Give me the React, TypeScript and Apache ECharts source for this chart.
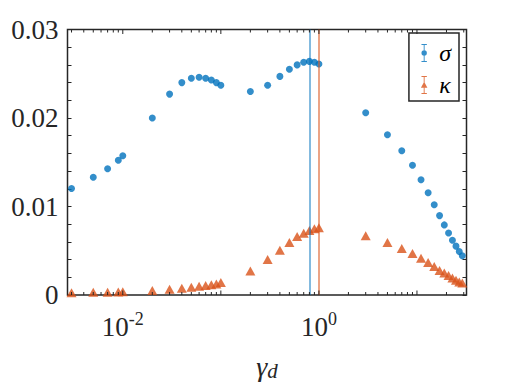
import React, { useEffect, useRef } from 'react';
import * as echarts from 'echarts';

// gamma_d sample points
const gammaD = [
  0.003, 0.005, 0.007, 0.009, 0.01,
  0.02, 0.03, 0.04, 0.05, 0.06, 0.07, 0.08, 0.09, 0.1,
  0.2, 0.3, 0.4, 0.5, 0.6, 0.7, 0.8, 0.9, 1,
  3, 5, 7, 9, 11, 13, 15, 17, 19, 21, 23, 25, 27, 29,
];

const sigmaValues = [
  0.01203, 0.0133, 0.01426, 0.01522, 0.01574,
  0.0200, 0.0227, 0.0240, 0.0245, 0.0246, 0.0245, 0.0243, 0.0240, 0.0237,
  0.0230, 0.0237, 0.0247, 0.0255, 0.0260, 0.0263, 0.0264, 0.0263, 0.0261,
  0.0206, 0.0181, 0.0163, 0.01467, 0.01303, 0.01156, 0.01019, 0.00897, 0.00792, 0.0070, 0.00619, 0.00552, 0.00492, 0.00444,
];

const kappaValues = [
  0.00025, 0.0003, 0.00032, 0.00035, 0.00036,
  0.0005, 0.00064, 0.00076, 0.00087, 0.00098, 0.00106, 0.00117, 0.00124, 0.00142,
  0.00272, 0.00402, 0.00506, 0.00594, 0.00661, 0.00698, 0.00728, 0.0075, 0.00761,
  0.00669, 0.00594, 0.00526, 0.0047, 0.00415, 0.00367, 0.00322, 0.00278, 0.00248, 0.00219, 0.00192, 0.00167, 0.00148, 0.00137,
];

const peakLines = [
  { name: 'σ', x: 0.8 },
  { name: 'κ', x: 1 },
];

const yTickLabels = ['0', '0.01', '0.02', '0.03'];
const xLabelDecades = [-2, 0];
const xDecades = [-3, -2, -1, 0, 1];

const X_MIN = 0.00273;
const X_MAX = 32;
const Y_MIN = 0;
const Y_MAX = 0.03;

const BLUE = '#0072BD';
const ORANGE = '#D95319';
const AXIS = '#262626';
const FONT = 'Liberation Serif';

const iconSigma =
  'path://M2 0H8V1H2Z M4.5 0H5.5V20H4.5Z M2 19H8V20H2Z M5 7A3 3 0 1 1 5 13A3 3 0 1 1 5 7Z';
const iconKappa =
  'path://M2 0H8V1H2Z M4.5 0H5.5V20H4.5Z M2 19H8V20H2Z M5 6.5L8.6 13L1.4 13Z';

export default function App() {
  const ref = useRef<HTMLDivElement>(null);

  useEffect(() => {
    if (!ref.current) return;
    const chart = echarts.init(ref.current, undefined, { renderer: 'svg' });

    const tickData: number[][] = [];
    xDecades.forEach((d) => {
      for (let m = 1; m <= 9; m++) {
        const v = m * Math.pow(10, d);
        if (v >= X_MIN && v <= X_MAX) tickData.push([v, m === 1 ? 1 : 0]);
      }
    });

    const yAxisCommon = {
      type: 'value',
      min: Y_MIN,
      max: Y_MAX,
      interval: 0.002,
      splitLine: { show: false },
      axisLine: { show: false },
      axisTick: { show: true, inside: true, length: 4, lineStyle: { color: AXIS, width: 1 } },
    };

    const option: any = {
      animation: false,
      backgroundColor: '#fff',
      textStyle: { fontFamily: FONT },
      grid: {
        left: 67.5,
        top: 29.5,
        width: 399,
        height: 270,
        show: true,
        borderColor: AXIS,
        borderWidth: 1.5,
        backgroundColor: 'transparent',
      },
      legend: {
        orient: 'vertical',
        right: 56,
        top: 33,
        padding: [8, 8, 4, 12],
        itemWidth: 10,
        itemHeight: 18,
        itemGap: 8,
        borderColor: AXIS,
        borderWidth: 1.5,
        backgroundColor: '#fff',
        textStyle: {
          fontFamily: FONT,
          fontStyle: 'italic',
          fontSize: 24,
          color: '#000',
          lineHeight: 20,
          padding: [0, 0, 0, 5],
        },
        data: [
          { name: 'σ', icon: iconSigma },
          { name: 'κ', icon: iconKappa },
        ],
      },
      xAxis: {
        type: 'log',
        logBase: 10,
        min: X_MIN,
        max: X_MAX,
        splitLine: { show: false },
        axisLine: { show: false },
        axisTick: { show: false },
        name: '{g|γ}{d|d}',
        nameLocation: 'middle',
        nameGap: 56,
        nameTextStyle: {
          rich: {
            g: { fontFamily: FONT, fontStyle: 'italic', fontSize: 28, color: AXIS, lineHeight: 30, verticalAlign: 'middle' },
            d: { fontFamily: FONT, fontStyle: 'italic', fontSize: 21, color: AXIS, lineHeight: 20, verticalAlign: 'bottom', padding: [8, 0, 0, 0] },
          },
        },
        axisLabel: {
          margin: 15,
          formatter: (v: number) => {
            const l = Math.log10(v);
            const e = Math.round(l);
            if (Math.abs(l - e) < 1e-6 && xLabelDecades.includes(e)) return `{b|10}{s|${e}}`;
            return '';
          },
          rich: {
            b: { fontFamily: FONT, fontSize: 27, color: AXIS, lineHeight: 30, verticalAlign: 'bottom' },
            s: { fontFamily: FONT, fontSize: 18, color: AXIS, lineHeight: 17, verticalAlign: 'top' },
          },
        },
      },
      yAxis: [
        {
          ...yAxisCommon,
          position: 'left',
          axisLabel: {
            show: true,
            margin: 9,
            fontFamily: FONT,
            fontSize: 27,
            color: AXIS,
            formatter: (v: number) => {
              const r = Math.round(v * 1000);
              if (r % 10 === 0) return yTickLabels[r / 10] ?? '';
              return '';
            },
          },
        },
        {
          ...yAxisCommon,
          position: 'right',
          axisLabel: { show: false },
        },
      ],
      series: [
        {
          name: 'σ',
          type: 'scatter',
          data: gammaD.map((x, i) => [x, sigmaValues[i]]),
          symbol: 'circle',
          symbolSize: 7,
          itemStyle: { color: BLUE },
          z: 3,
          markLine: {
            silent: true,
            symbol: ['none', 'none'],
            label: { show: false },
            lineStyle: { color: BLUE, width: 1.5, type: 'solid', opacity: 0.65 },
            data: [{ xAxis: peakLines[0].x }],
          },
        },
        {
          name: 'κ',
          type: 'scatter',
          data: gammaD.map((x, i) => [x, kappaValues[i]]),
          symbol: 'triangle',
          symbolSize: [10, 9],
          itemStyle: { color: ORANGE },
          z: 3,
          markLine: {
            silent: true,
            symbol: ['none', 'none'],
            label: { show: false },
            lineStyle: { color: ORANGE, width: 1.5, type: 'solid', opacity: 0.7 },
            data: [{ xAxis: peakLines[1].x }],
          },
        },
        {
          name: 'xticks',
          type: 'custom',
          silent: true,
          clip: false,
          z: 5,
          data: tickData,
          renderItem: (params: any, api: any) => {
            const v = api.value(0);
            const major = api.value(1) === 1;
            const b = api.coord([v, Y_MIN]);
            const t = api.coord([v, Y_MAX]);
            const len = major ? 4.5 : 3;
            const style = { stroke: AXIS, lineWidth: 1 };
            return {
              type: 'group',
              children: [
                { type: 'line', shape: { x1: b[0], y1: b[1], x2: b[0], y2: b[1] - len }, style },
                { type: 'line', shape: { x1: t[0], y1: t[1], x2: t[0], y2: t[1] + len }, style },
              ],
            };
          },
        },
      ],
    };

    chart.setOption(option);
    return () => chart.dispose();
  }, []);

  return (
    <div
      ref={ref}
      style={{ position: 'absolute', left: 0, top: 0, width: 515, height: 386, background: '#fff' }}
    />
  );
}
